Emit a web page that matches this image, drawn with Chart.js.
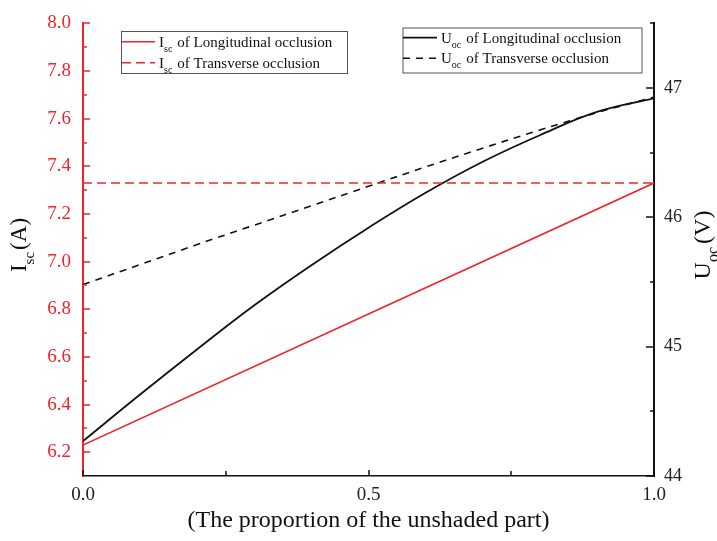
<!DOCTYPE html>
<html><head><meta charset="utf-8">
<script src="https://cdn.jsdelivr.net/npm/chart.js@4.4.1/dist/chart.umd.min.js"></script>
<style>html,body{margin:0;padding:0;background:#fff}#wrap{width:717px;height:541px;position:relative}</style>
</head><body><div id="wrap"><canvas id="c" width="717" height="541" style="width:717px;height:541px"></canvas></div>
<script>
// ---- data ----
const proportion = [0, 0.1, 0.2, 0.3, 0.4, 0.5, 0.6, 0.7, 0.8, 0.9, 1.0];
const proportionIsc = [0, 0.5, 1.0];
const iscLongitudinal = [6.23, 6.78, 7.33];
const iscTransverse = [7.33, 7.33, 7.33];
const uocLongitudinal = [44.27, 44.63, 44.98, 45.32, 45.63, 45.92, 46.19, 46.43, 46.635, 46.815, 46.92];
const uocTransverse = [45.48, 45.635, 45.79, 45.94, 46.09, 46.24, 46.39, 46.535, 46.675, 46.81, 46.93];

const xTicks = [0, 0.5, 1.0];
const xMinorTicks = [0.25, 0.75];
const leftTicks = [6.2, 6.4, 6.6, 6.8, 7.0, 7.2, 7.4, 7.6, 7.8, 8.0];
const leftMinorTicks = [6.3, 6.5, 6.7, 6.9, 7.1, 7.3, 7.5, 7.7, 7.9];
const rightTicks = [44, 45, 46, 47];
const rightMinorTicks = [44.5, 45.5, 46.5, 47.5];

const seriesSymbol = ['I', 'I', 'U', 'U'];
const seriesSub = ['sc', 'sc', 'oc', 'oc'];
const seriesName = ['of Longitudinal occlusion', 'of Transverse occlusion', 'of Longitudinal occlusion', 'of Transverse occlusion'];
const axisTitleX = '(The proportion of the unshaded part)';

const RED = '#f0242b';
const BLACK = '#111111';
const FONT = '"Liberation Serif", "Times New Roman", serif';

const pts = (xs, ys) => xs.map((x, i) => ({x, y: ys[i]}));

function drawSub(ctx, x, y, main, sub, rest, size, gap) {
  ctx.textBaseline = 'alphabetic';
  ctx.textAlign = 'left';
  ctx.font = size + 'px ' + FONT;
  ctx.fillText(main, x, y);
  x += ctx.measureText(main).width;
  const ss = Math.round(size * 0.66);
  ctx.font = ss + 'px ' + FONT;
  ctx.fillText(sub, x, y + size * 0.33);
  x += ctx.measureText(sub).width + gap;
  ctx.font = size + 'px ' + FONT;
  ctx.fillText(rest, x, y);
  return x + ctx.measureText(rest).width;
}
function subWidth(ctx, main, sub, rest, size, gap) {
  ctx.font = size + 'px ' + FONT;
  let w = ctx.measureText(main).width + ctx.measureText(rest).width + gap;
  ctx.font = Math.round(size * 0.66) + 'px ' + FONT;
  return w + ctx.measureText(sub).width;
}

const extras = {
  id: 'extras',
  afterDraw(chart) {
    const ctx = chart.ctx;
    const a = chart.chartArea;
    const sx = chart.scales.x, yl = chart.scales.yL, yr = chart.scales.yR;
    ctx.save();
    // inward ticks
    ctx.lineWidth = 1.5;
    ctx.strokeStyle = RED;
    const tk = (x1, y1, x2, y2) => { ctx.beginPath(); ctx.moveTo(x1, y1); ctx.lineTo(x2, y2); ctx.stroke(); };
    leftTicks.forEach(v => { const y = Math.round(yl.getPixelForValue(v)); tk(a.left, y, a.left + 7, y); });
    leftMinorTicks.forEach(v => { const y = Math.round(yl.getPixelForValue(v)); tk(a.left, y, a.left + 4, y); });
    ctx.strokeStyle = BLACK;
    rightTicks.forEach(v => { const y = Math.round(yr.getPixelForValue(v)); tk(a.right, y, a.right - 8, y); });
    rightMinorTicks.forEach(v => { const y = Math.round(yr.getPixelForValue(v)); tk(a.right, y, a.right - 4, y); });
    xTicks.forEach(v => { const x = Math.round(sx.getPixelForValue(v)); tk(x, a.bottom, x, a.bottom - 6); });
    xMinorTicks.forEach(v => { const x = Math.round(sx.getPixelForValue(v)); tk(x, a.bottom, x, a.bottom - 5); });

    // axis titles
    ctx.fillStyle = BLACK;
    ctx.font = '24px ' + FONT;
    ctx.textAlign = 'center';
    ctx.textBaseline = 'middle';
    ctx.fillText(axisTitleX, (a.left + a.right) / 2, 521);

    ctx.save();
    ctx.translate(26, 245);
    ctx.rotate(-Math.PI / 2);
    let w = subWidth(ctx, 'I', 'sc', '(A)', 23, 2);
    drawSub(ctx, -w / 2, 0, 'I', 'sc', '(A)', 23, 2);
    ctx.restore();
    ctx.save();
    ctx.translate(710, 245);
    ctx.rotate(-Math.PI / 2);
    w = subWidth(ctx, 'U', 'oc', '(V)', 24, 3);
    drawSub(ctx, -w / 2, 0, 'U', 'oc', '(V)', 24, 3);
    ctx.restore();

    // legends
    const boxes = [
      {x: 121, y: 31, w: 226, h: 42, rows: [41.7, 62.7], ds: [0, 1], lx1: 122, lx2: 155, tx: 159},
      {x: 402.5, y: 27.5, w: 239, h: 45, rows: [37.7, 58.3], ds: [2, 3], lx1: 403, lx2: 437, tx: 441}
    ];
    boxes.forEach(b => {
      ctx.lineWidth = 1;
      ctx.strokeStyle = '#555';
      ctx.setLineDash([]);
      ctx.strokeRect(b.x + 0.5, b.y + 0.5, b.w, b.h);
      b.ds.forEach((di, k) => {
        const d = chart.data.datasets[di];
        const y = b.rows[k];
        ctx.strokeStyle = d.borderColor;
        ctx.lineWidth = d.borderWidth;
        ctx.setLineDash(d.borderDash || []);
        ctx.beginPath(); ctx.moveTo(b.lx1, y); ctx.lineTo(b.lx2, y); ctx.stroke();
        ctx.setLineDash([]);
        ctx.fillStyle = BLACK;
        drawSub(ctx, b.tx, y + 5, seriesSymbol[di], seriesSub[di], seriesName[di], 15, 5);
      });
    });
    ctx.restore();
  }
};

new Chart(document.getElementById('c'), {
  type: 'line',
  data: {
    datasets: [
      {label: seriesSymbol[0] + seriesSub[0] + ' ' + seriesName[0], data: pts(proportionIsc, iscLongitudinal), yAxisID: 'yL', borderColor: RED, borderWidth: 1.6, pointRadius: 0, tension: 0},
      {label: seriesSymbol[1] + seriesSub[1] + ' ' + seriesName[1], data: pts(proportionIsc, iscTransverse), yAxisID: 'yL', borderColor: RED, borderWidth: 1.5, borderDash: [9, 5], pointRadius: 0, tension: 0},
      {label: seriesSymbol[2] + seriesSub[2] + ' ' + seriesName[2], data: pts(proportion, uocLongitudinal), yAxisID: 'yR', borderColor: BLACK, borderWidth: 1.8, pointRadius: 0, tension: 0.4},
      {label: seriesSymbol[3] + seriesSub[3] + ' ' + seriesName[3], data: pts(proportion, uocTransverse), yAxisID: 'yR', borderColor: BLACK, borderWidth: 1.6, borderDash: [7, 6], pointRadius: 0, tension: 0.4}
    ]
  },
  options: {
    responsive: false,
    maintainAspectRatio: false,
    animation: false,
    devicePixelRatio: 1,
    layout: {padding: {top: 17, left: 0, right: 0, bottom: 0}},
    plugins: {legend: {display: false}, tooltip: {enabled: false}},
    scales: {
      x: {
        type: 'linear', min: 0, max: 1,
        afterBuildTicks: s => { s.ticks = xTicks.map(v => ({value: v})); },
        afterFit: s => { s.height = 65; },
        grid: {display: false, drawTicks: false},
        border: {display: true, color: BLACK, width: 1.5},
        ticks: {color: '#222', font: {family: FONT, size: 19}, padding: 8, maxRotation: 0, autoSkip: false, callback: v => v.toFixed(1)}
      },
      yL: {
        type: 'linear', position: 'left', min: 6.1, max: 8.0,
        afterBuildTicks: s => { s.ticks = leftTicks.map(v => ({value: v})); },
        afterFit: s => { s.width = 83; },
        grid: {display: false, drawTicks: false},
        border: {display: true, color: RED, width: 2},
        ticks: {color: RED, font: {family: FONT, size: 19}, padding: 12, autoSkip: false, callback: v => v.toFixed(1)}
      },
      yR: {
        type: 'linear', position: 'right', min: 44, max: 47.5,
        afterBuildTicks: s => { s.ticks = rightTicks.map(v => ({value: v})); },
        afterFit: s => { s.width = 63; },
        grid: {display: false, drawTicks: false},
        border: {display: true, color: BLACK, width: 2},
        ticks: {color: '#222', font: {family: FONT, size: 18}, padding: 10, autoSkip: false, callback: v => String(v)}
      }
    }
  },
  plugins: [extras]
});
</script>
</body></html>
